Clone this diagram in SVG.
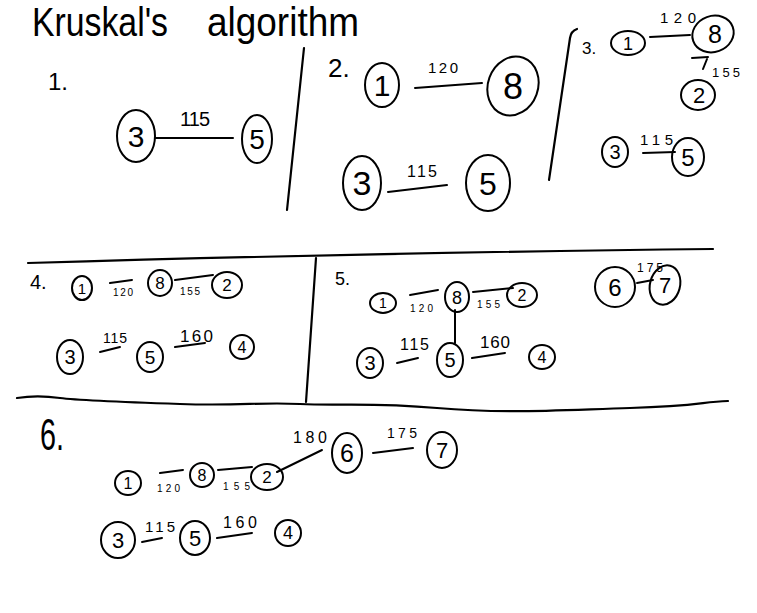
<svg xmlns="http://www.w3.org/2000/svg" width="757" height="613" viewBox="0 0 757 613">
<style>
  .bg{fill:#fff}
  ellipse{fill:none;stroke:#000;stroke-width:2}
  .c line,.c path{stroke:#000;stroke-width:2;fill:none;stroke-linecap:round}
  .d{stroke:#000;stroke-width:2.2;fill:none;stroke-linecap:round}
  text{font-family:"Liberation Sans",Arial,sans-serif;fill:#000}
  .n text{text-anchor:middle}
  .t{font-size:40px}
  .lbl{font-size:14px}
</style>
<rect class="bg" width="757" height="613"/>
<text class="t" x="32" y="36" textLength="136" lengthAdjust="spacingAndGlyphs">Kruskal's</text>
<text class="t" x="207" y="36" textLength="152" lengthAdjust="spacingAndGlyphs">algorithm</text>

<g id="dividers">
  <path class="d" d="M304,48 L287,210"/>
  <path class="d" d="M577,29 Q571,31 570,38 L549,180"/>
  <path class="d" d="M28,263 C200,258 420,252 713,249"/>
  <path class="d" d="M316,258 L306,402"/>
  <path class="d" d="M17,398 C30,396 45,396 60,398 S120,402 180,404 S260,402 300,404 S370,402 437,408 S560,410 630,408 S700,402 728,401"/>
</g>

<!-- section labels -->
<text x="48" y="90" font-size="24">1.</text>
<text x="328" y="77" font-size="26">2.</text>
<text x="582" y="54" font-size="17">3.</text>
<text x="30" y="289" font-size="20">4.</text>
<text x="335" y="285" font-size="18">5.</text>
<text x="40" y="450" font-size="44" textLength="24" lengthAdjust="spacingAndGlyphs">6.</text>

<!-- Section 1 -->
<g id="s1-n3" class="n"><ellipse cx="136" cy="136" rx="19" ry="26"/><text x="136" y="147" font-size="30">3</text></g>
<g id="s1-n5" class="n"><ellipse cx="257" cy="139" rx="15" ry="24"/><text x="257" y="149" font-size="28">5</text></g>

<!-- Section 2 -->
<g id="s2-n1" class="n"><ellipse cx="382" cy="85" rx="17" ry="22"/><text x="382" y="96" font-size="30">1</text></g>
<g id="s2-n8" class="n"><ellipse cx="513" cy="86" rx="25" ry="30" transform="rotate(20 513 86)"/><text x="513" y="99" font-size="36">8</text></g>
<g id="s2-n3" class="n"><ellipse cx="362" cy="183" rx="19" ry="27"/><text x="362" y="195" font-size="34">3</text></g>
<g id="s2-n5" class="n"><ellipse cx="488" cy="183" rx="22" ry="28"/><text x="488" y="195" font-size="32">5</text></g>

<!-- Section 3 -->
<g id="s3-n1" class="n"><ellipse cx="628" cy="43" rx="17" ry="12"/><text x="628" y="50" font-size="18">1</text></g>
<g id="s3-n8" class="n"><ellipse cx="713" cy="34" rx="21" ry="18" transform="rotate(-20 713 34)"/><text x="715" y="43" font-size="25">8</text></g>
<g id="s3-n2" class="n"><ellipse cx="698" cy="95" rx="17" ry="15"/><text x="699" y="103" font-size="22">2</text></g>
<g id="s3-n3" class="n"><ellipse cx="615" cy="152" rx="13" ry="15"/><text x="615" y="159" font-size="20">3</text></g>
<g id="s3-n5" class="n"><ellipse cx="688" cy="157" rx="16" ry="19"/><text x="688" y="166" font-size="24">5</text></g>

<!-- Section 4 -->
<g id="s4-n1" class="n"><ellipse cx="82" cy="288" rx="10" ry="12"/><text x="82" y="294" font-size="15">1</text></g>
<g id="s4-n8" class="n"><ellipse cx="160" cy="283" rx="12" ry="13"/><text x="160" y="289" font-size="17">8</text></g>
<g id="s4-n2" class="n"><ellipse cx="227" cy="285" rx="15" ry="13"/><text x="227" y="291" font-size="17">2</text></g>
<g id="s4-n3" class="n"><ellipse cx="70" cy="357" rx="13" ry="17"/><text x="70" y="364" font-size="20">3</text></g>
<g id="s4-n5" class="n"><ellipse cx="150" cy="357" rx="13" ry="15"/><text x="150" y="364" font-size="19">5</text></g>
<g id="s4-n4" class="n"><ellipse cx="242" cy="347" rx="12" ry="12"/><text x="242" y="353" font-size="16">4</text></g>

<!-- Section 5 -->
<g id="s5-n1" class="n"><ellipse cx="383" cy="303" rx="13" ry="10"/><text x="383" y="308" font-size="14">1</text></g>
<g id="s5-n8" class="n"><ellipse cx="457" cy="297" rx="12" ry="15"/><text x="457" y="304" font-size="18">8</text></g>
<g id="s5-n2" class="n"><ellipse cx="522" cy="295" rx="15" ry="12"/><text x="522" y="301" font-size="16">2</text></g>
<g id="s5-n3" class="n"><ellipse cx="370" cy="363" rx="13" ry="15"/><text x="370" y="370" font-size="20">3</text></g>
<g id="s5-n5" class="n"><ellipse cx="450" cy="360" rx="13" ry="17"/><text x="450" y="367" font-size="20">5</text></g>
<g id="s5-n4" class="n"><ellipse cx="542" cy="357" rx="13" ry="12"/><text x="542" y="363" font-size="16">4</text></g>
<g id="s5-n6" class="n"><ellipse cx="615" cy="287" rx="20" ry="20"/><text x="615" y="296" font-size="24">6</text></g>
<g id="s5-n7" class="n"><ellipse cx="665" cy="285" rx="15" ry="20" transform="rotate(15 665 285)"/><text x="665" y="293" font-size="22">7</text></g>

<!-- Section 6 -->
<g id="s6-n1" class="n"><ellipse cx="128" cy="483" rx="13" ry="12"/><text x="128" y="489" font-size="16">1</text></g>
<g id="s6-n8" class="n"><ellipse cx="202" cy="475" rx="12" ry="12"/><text x="202" y="481" font-size="16">8</text></g>
<g id="s6-n2" class="n"><ellipse cx="267" cy="477" rx="16" ry="13"/><text x="267" y="483" font-size="17">2</text></g>
<g id="s6-n6" class="n"><ellipse cx="347" cy="453" rx="15" ry="20"/><text x="347" y="462" font-size="25">6</text></g>
<g id="s6-n7" class="n"><ellipse cx="442" cy="450" rx="15" ry="18"/><text x="442" y="458" font-size="22">7</text></g>
<g id="s6-n3" class="n"><ellipse cx="118" cy="540" rx="17" ry="18"/><text x="118" y="548" font-size="22">3</text></g>
<g id="s6-n5" class="n"><ellipse cx="195" cy="538" rx="15" ry="17"/><text x="195" y="546" font-size="22">5</text></g>
<g id="s6-n4" class="n"><ellipse cx="288" cy="533" rx="13" ry="13"/><text x="288" y="539" font-size="18">4</text></g>

<g id="connectors" class="c">
  <!-- s1 -->
  <line x1="155" y1="138" x2="233" y2="138"/>
  <!-- s2 -->
  <line x1="415" y1="88" x2="482" y2="83"/>
  <line x1="388" y1="192" x2="447" y2="185"/>
  <!-- s3 -->
  <line x1="650" y1="37" x2="690" y2="35"/>
  <path d="M692,58 L708,57 M707,59 L703,69"/>
  <line x1="643" y1="153" x2="675" y2="152"/>
  <!-- s4 -->
  <line x1="110" y1="283" x2="132" y2="280"/>
  <line x1="175" y1="280" x2="213" y2="275"/>
  <line x1="100" y1="352" x2="120" y2="347"/>
  <line x1="175" y1="347" x2="205" y2="343"/>
  <!-- s5 -->
  <line x1="410" y1="295" x2="438" y2="290"/>
  <line x1="473" y1="292" x2="513" y2="288"/>
  <line x1="455" y1="310" x2="455" y2="343"/>
  <line x1="397" y1="363" x2="418" y2="358"/>
  <line x1="472" y1="358" x2="505" y2="353"/>
  <line x1="637" y1="283" x2="653" y2="280"/>
  <!-- s6 -->
  <line x1="160" y1="473" x2="183" y2="470"/>
  <line x1="218" y1="470" x2="252" y2="467"/>
  <line x1="277" y1="472" x2="322" y2="450"/>
  <line x1="373" y1="453" x2="413" y2="448"/>
  <line x1="142" y1="542" x2="162" y2="538"/>
  <line x1="217" y1="538" x2="252" y2="533"/>
</g>

<g id="edge-labels">
  <text x="180" y="126" font-size="20" textLength="30" lengthAdjust="spacing">115</text>
  <text x="428" y="73" font-size="15" textLength="30" lengthAdjust="spacing">120</text>
  <text x="407" y="177" font-size="16" textLength="30" lengthAdjust="spacing">115</text>
  <text x="660" y="23" font-size="15" textLength="36" lengthAdjust="spacing">120</text>
  <text x="712" y="77" font-size="13" textLength="28" lengthAdjust="spacing">155</text>
  <text x="640" y="145" font-size="15" textLength="33" lengthAdjust="spacing">115</text>
  <text x="113" y="296" font-size="10" textLength="20" lengthAdjust="spacing">120</text>
  <text x="180" y="295" font-size="10" textLength="20" lengthAdjust="spacing">155</text>
  <text x="103" y="343" font-size="14" textLength="24" lengthAdjust="spacing">115</text>
  <text x="180" y="342" font-size="17" textLength="33" lengthAdjust="spacing">160</text>
  <text x="410" y="312" font-size="10" textLength="23" lengthAdjust="spacing">120</text>
  <text x="477" y="308" font-size="10" textLength="23" lengthAdjust="spacing">155</text>
  <text x="400" y="350" font-size="16" textLength="29" lengthAdjust="spacing">115</text>
  <text x="480" y="348" font-size="17" textLength="30" lengthAdjust="spacing">160</text>
  <text x="637" y="272" font-size="12" textLength="26" lengthAdjust="spacing">175</text>
  <text x="157" y="492" font-size="10" textLength="23" lengthAdjust="spacing">120</text>
  <text x="223" y="490" font-size="10" textLength="27" lengthAdjust="spacing">155</text>
  <text x="293" y="443" font-size="16" textLength="34" lengthAdjust="spacing">180</text>
  <text x="387" y="438" font-size="14" textLength="30" lengthAdjust="spacing">175</text>
  <text x="145" y="532" font-size="15" textLength="30" lengthAdjust="spacing">115</text>
  <text x="223" y="528" font-size="16" textLength="34" lengthAdjust="spacing">160</text>
</g>
</svg>
